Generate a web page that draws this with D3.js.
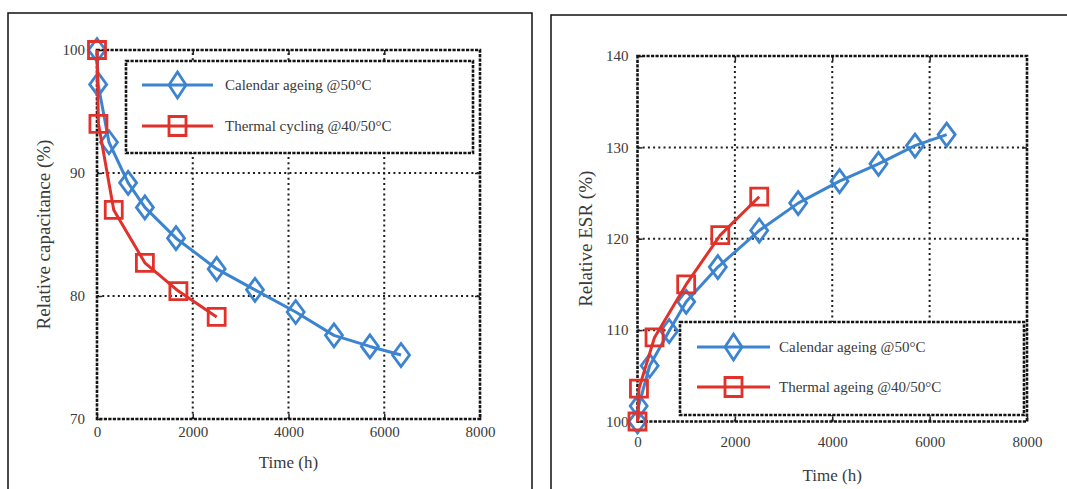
<!DOCTYPE html>
<html>
<head>
<meta charset="utf-8">
<script src="https://cdn.jsdelivr.net/npm/d3@7/dist/d3.min.js"></script>
<style>
  html, body { margin: 0; padding: 0; background: #fff; }
  svg { display: block; }
</style>
</head>
<body>
<svg id="chart" width="1067" height="489"></svg>
<script>
// ---------------- DATA ----------------
const timeTicks = [0, 2000, 4000, 6000, 8000];
const capTicks = [70, 80, 90, 100];
const esrTicks = [100, 110, 120, 130, 140];

const capCalendarTime  = [0, 24, 250, 650, 1000, 1650, 2500, 3300, 4150, 4950, 5700, 6350];
const capCalendarValue = [100, 97.2, 92.5, 89.2, 87.2, 84.7, 82.2, 80.5, 78.7, 76.8, 75.9, 75.2];
const capThermalTime   = [0, 30, 350, 1000, 1700, 2500];
const capThermalValue  = [100, 94.0, 87.0, 82.7, 80.4, 78.3];

const esrCalendarTime  = [0, 24, 250, 650, 1000, 1650, 2500, 3300, 4150, 4950, 5700, 6350];
const esrCalendarValue = [100, 101.7, 106.1, 109.9, 113.1, 116.9, 120.9, 123.9, 126.3, 128.2, 130.2, 131.4];
const esrThermalTime   = [0, 30, 350, 1000, 1700, 2500];
const esrThermalValue  = [100, 103.6, 109.2, 115.0, 120.4, 124.6];

const capLegendLabels = ["Calendar ageing @50°C", "Thermal cycling @40/50°C"];
const esrLegendLabels = ["Calendar ageing @50°C", "Thermal ageing @40/50°C"];
const xTitle = "Time (h)";
const capTitle = "Relative capacitance (%)";
const esrTitle = "Relative ESR (%)";

// ---------------- STYLE ----------------
const BLUE = "#3d84d0";
const RED = "#e0312b";
const TEXT = "#3a3a3a";
const FONT = "'Liberation Serif', 'DejaVu Serif', serif";

const svg = d3.select("#chart");
svg.append("rect").attr("width", 1067).attr("height", 489).attr("fill", "#fff");

// outer panel frames
svg.append("path").attr("d", "M8,489 L8,13 L532,13 L532,489")
  .attr("fill", "none").attr("stroke", "#111").attr("stroke-width", 1.5);
svg.append("path").attr("d", "M551,489 L551,15 L1067,15")
  .attr("fill", "none").attr("stroke", "#111").attr("stroke-width", 1.5);

function zip(t, v) { return t.map((d, i) => ({ t: d, v: v[i] })); }

function diamondPath(w, h) { return `M0,${-h} L${w},0 L0,${h} L${-w},0 Z`; }
function squarePath(w, h) { return `M${-w},${-h} L${w},${-h} L${w},${h} L${-w},${h} Z`; }

function drawPanel(cfg) {
  const g = svg.append("g");
  const x = d3.scaleLinear().domain([timeTicks[0], timeTicks[timeTicks.length - 1]]).range([cfg.x0, cfg.x1]);
  const y = d3.scaleLinear().domain([cfg.yTicks[0], cfg.yTicks[cfg.yTicks.length - 1]]).range([cfg.y0, cfg.y1]);

  // grid (dotted)
  const grid = g.append("g").attr("stroke", "#1e1e1e").attr("stroke-width", 2)
    .attr("stroke-dasharray", "2,3.2").attr("fill", "none");
  timeTicks.slice(1, -1).forEach(t => {
    grid.append("line").attr("x1", x(t)).attr("x2", x(t)).attr("y1", y.range()[0]).attr("y2", y.range()[1]);
  });
  cfg.yTicks.slice(1, -1).forEach(v => {
    grid.append("line").attr("x1", x.range()[0]).attr("x2", x.range()[1]).attr("y1", y(v)).attr("y2", y(v));
  });

  // axes (inward ticks)
  const xAxis = g.append("g").attr("transform", `translate(0,${cfg.y0})`)
    .call(d3.axisBottom(x).tickValues(timeTicks).tickSizeInner(-5).tickSizeOuter(0).tickPadding(cfg.xPad).tickFormat(d3.format("d")));
  const xAxisTop = g.append("g").attr("transform", `translate(0,${cfg.y1})`)
    .call(d3.axisTop(x).tickValues(timeTicks.slice(1, -1)).tickSizeInner(-5).tickSizeOuter(0).tickFormat(""));
  const yAxis = g.append("g").attr("transform", `translate(${cfg.x0},0)`)
    .call(d3.axisLeft(y).tickValues(cfg.yTicks).tickSizeInner(-5).tickSizeOuter(0).tickPadding(cfg.yPad).tickFormat(d3.format("d")));
  const yAxisRight = g.append("g").attr("transform", `translate(${cfg.x1},0)`)
    .call(d3.axisRight(y).tickValues(cfg.yTicks.slice(1, -1)).tickSizeInner(-5).tickSizeOuter(0).tickFormat(""));
  [xAxis, xAxisTop, yAxis, yAxisRight].forEach(a => {
    a.select(".domain").remove();
    a.selectAll("line").attr("stroke", "#222").attr("stroke-width", 1.5);
    a.selectAll("text").attr("fill", TEXT).attr("font-family", FONT).attr("font-size", 15);
  });

  // plot frame (dashed)
  g.append("rect")
    .attr("x", x.range()[0]).attr("y", y.range()[1])
    .attr("width", x.range()[1] - x.range()[0]).attr("height", y.range()[0] - y.range()[1])
    .attr("fill", "none").attr("stroke", "#151515").attr("stroke-width", 2.6).attr("stroke-dasharray", "3.2,1.3");

  // titles
  g.append("text").text(xTitle)
    .attr("x", (cfg.x0 + cfg.x1) / 2).attr("y", cfg.xTitleY).attr("dy", "0.35em")
    .attr("text-anchor", "middle").attr("fill", TEXT).attr("font-family", FONT).attr("font-size", 17);
  g.append("text").text(cfg.yTitle)
    .attr("transform", `translate(${cfg.yTitleX},${(cfg.y0 + cfg.y1) / 2}) rotate(-90)`).attr("dy", "0.35em")
    .attr("text-anchor", "middle").attr("fill", TEXT).attr("font-family", FONT).attr("font-size", 19);

  // legend
  const lg = g.append("g");
  lg.append("rect").attr("x", cfg.leg.x).attr("y", cfg.leg.y).attr("width", cfg.leg.w).attr("height", cfg.leg.h)
    .attr("fill", "#fff").attr("stroke", "#151515").attr("stroke-width", 2.6).attr("stroke-dasharray", "3.2,1.3");

  const line = d3.line().x(d => x(d.t)).y(d => y(d.v));
  const series = [
    { data: zip(cfg.calT, cfg.calV), color: BLUE, shape: "diamond", label: cfg.labels[0] },
    { data: zip(cfg.thT, cfg.thV), color: RED, shape: "square", label: cfg.labels[1] }
  ];

  series.forEach((s, i) => {
    g.append("path").datum(s.data).attr("d", line)
      .attr("fill", "none").attr("stroke", s.color).attr("stroke-width", 3).attr("stroke-linejoin", "round");
    g.selectAll(null).data(s.data).enter().append("path")
      .attr("transform", d => `translate(${x(d.t)},${y(d.v)})`)
      .attr("d", s.shape === "diamond" ? diamondPath(8.5, 11.5) : squarePath(8.5, 8.5))
      .attr("fill", "none").attr("stroke", s.color).attr("stroke-width", 2.8);

    const ly = cfg.leg.y + cfg.leg.rows[i];
    lg.append("line").attr("x1", cfg.leg.x + cfg.leg.lx1).attr("x2", cfg.leg.x + cfg.leg.lx2)
      .attr("y1", ly).attr("y2", ly).attr("stroke", s.color).attr("stroke-width", 3);
    lg.append("path").attr("transform", `translate(${cfg.leg.x + (cfg.leg.lx1 + cfg.leg.lx2) / 2},${ly})`)
      .attr("d", s.shape === "diamond" ? diamondPath(8.5, 13) : squarePath(8.5, 9.5))
      .attr("fill", "none").attr("stroke", s.color).attr("stroke-width", 2.8);
    lg.append("text").text(s.label)
      .attr("x", cfg.leg.x + cfg.leg.tx).attr("y", ly).attr("dy", "0.33em")
      .attr("fill", TEXT).attr("font-family", FONT).attr("font-size", 15);
  });
}

drawPanel({
  x0: 97, x1: 480, y0: 419, y1: 50,
  yTicks: capTicks, xPad: 7, yPad: 12,
  xTitleY: 462, yTitle: capTitle, yTitleX: 43,
  calT: capCalendarTime, calV: capCalendarValue,
  thT: capThermalTime, thV: capThermalValue,
  labels: capLegendLabels,
  leg: { x: 126, y: 61, w: 347, h: 92, rows: [24, 65], lx1: 16, lx2: 87, tx: 99 }
});

drawPanel({
  x0: 637.5, x1: 1027, y0: 421.5, y1: 56,
  yTicks: esrTicks, xPad: 15, yPad: 9,
  xTitleY: 475, yTitle: esrTitle, yTitleX: 585,
  calT: esrCalendarTime, calV: esrCalendarValue,
  thT: esrThermalTime, thV: esrThermalValue,
  labels: esrLegendLabels,
  leg: { x: 680, y: 322, w: 344, h: 93, rows: [25, 65], lx1: 17, lx2: 90, tx: 99 }
});
</script>
</body>
</html>
